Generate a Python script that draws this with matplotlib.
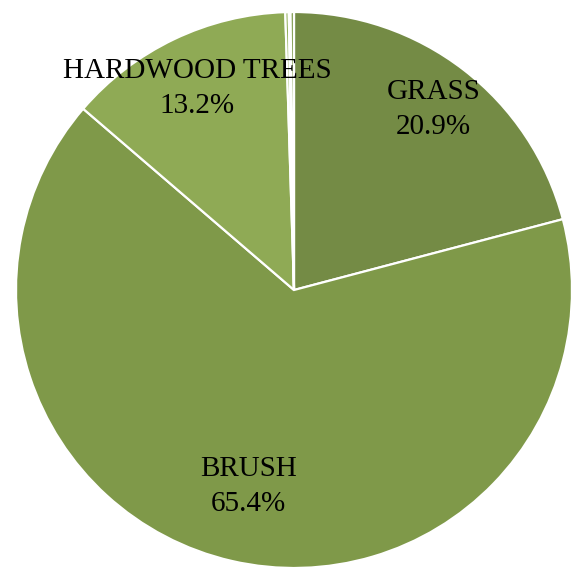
import numpy as np
import matplotlib.pyplot as plt

labels = ['GRASS', 'BRUSH', 'HARDWOOD TREES', '', '', '']
values = [20.9, 65.4, 13.2, 0.2, 0.1, 0.2]
shown = ['20.9%', '65.4%', '13.2%', '', '', '']
colors = ['#748b45', '#7f9949', '#8faa55', '#93b05a', '#8aa752', '#7e9a4b']
label_r = [0.82, 0.725, 0.805, 0, 0, 0]

fig = plt.figure(figsize=(5.72, 5.67), dpi=100)
ax = fig.add_axes([0, 0, 1, 1])

wedges, _ = ax.pie(values, startangle=90, counterclock=False, colors=colors,
                   wedgeprops=dict(edgecolor='white', linewidth=1.6))

for w, name, pct, r in zip(wedges, labels, shown, label_r):
    if not name:
        continue
    mid = np.deg2rad((w.theta1 + w.theta2) / 2)
    ax.text(r * np.cos(mid), r * np.sin(mid), name + '\n' + pct,
            ha='center', va='center', fontsize=21, family='Liberation Serif',
            linespacing=1.45, color='black')

# pie centre sits left of middle, bottom and right edges clipped
ax.set_xlim(-294 / 278, 278 / 278)
ax.set_ylim(-277 / 278, 290 / 278)
ax.set_aspect('auto')
ax.axis('off')

plt.savefig('out.png', dpi=100)
